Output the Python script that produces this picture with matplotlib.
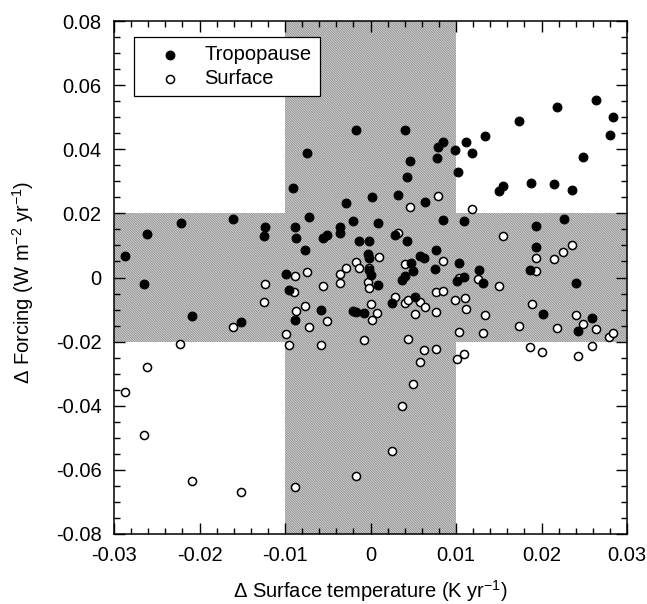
import numpy as np
import matplotlib
matplotlib.use('Agg')
import matplotlib.pyplot as plt
from matplotlib.ticker import MultipleLocator, FuncFormatter

plt.rcParams['font.family'] = ['Liberation Sans', 'DejaVu Sans']
plt.rcParams['mathtext.fontset'] = 'custom'
plt.rcParams['mathtext.rm'] = 'Liberation Sans'
plt.rcParams['mathtext.it'] = 'Liberation Sans:italic'
plt.rcParams['axes.unicode_minus'] = False
plt.rcParams['hatch.color'] = '#8c8c8c'
plt.rcParams['hatch.linewidth'] = 0.6

# ── DATA ───────────────────────────────────────────────────
trop_x = [-0.02868, -0.02618, -0.02649, -0.02222, -0.01608, -0.01234, -0.01251, -0.00901,
          -0.00743, -0.00883, -0.00875, -0.00719, -0.00766, -0.00992, -0.00959, -0.00550,
          -0.00509, -0.00582, -0.02091, -0.01520, -0.00880, -0.00166, -0.00287, 0.00023,
          -0.00199, 0.00091, -0.00354, -0.00353, -0.00135, -0.00018, -0.00033, -0.00023,
          -0.00012, 0.00006, 0.00084, -0.00199, -0.00166, -0.00073, 0.00400, 0.00848,
          0.00786, 0.01117, 0.00994, 0.00775, 0.00458, 0.01027, 0.00429, 0.00319,
          0.00634, 0.00844, 0.01099, 0.00283, 0.00421, 0.00766, 0.00582, 0.00622,
          0.00471, 0.00494, 0.00407, 0.00372, 0.00760, 0.01039, 0.01096, 0.01014,
          0.00251, 0.00515, 0.01187, 0.01336, 0.01740, 0.02185, 0.02637, 0.02833,
          0.02798, 0.02485, 0.01499, 0.01546, 0.01881, 0.02143, 0.02360, 0.01936,
          0.02260, 0.01932, 0.01265, 0.01319, 0.01865, 0.02404, 0.02012, 0.02593,
          0.02425]
trop_y = [0.00680, 0.01357, -0.00203, 0.01700, 0.01810, 0.01566, 0.01304, 0.02792,
          0.03884, 0.01566, 0.01226, 0.01881, 0.00867, 0.00119, -0.00381, 0.01223,
          0.01335, -0.00998, -0.01207, -0.01379, -0.01310, 0.04611, 0.02324, 0.02521,
          0.01769, 0.01697, 0.01560, 0.01398, 0.01145, 0.01145, 0.00733, 0.00599,
          0.00234, 0.00069, -0.00225, -0.01036, -0.01070, -0.01117, 0.04602, 0.04222,
          0.04062, 0.04234, 0.03988, 0.03722, 0.03644, 0.03276, 0.03136, 0.02580,
          0.02356, 0.01794, 0.01747, 0.01317, 0.01129, 0.00867, 0.00677, 0.00624,
          0.00443, 0.00203, 0.00056, -0.00078, 0.00275, 0.00459, 0.00025, -0.00119,
          -0.00780, -0.00599, 0.03875, 0.04415, 0.04892, 0.05310, 0.05529, 0.05008,
          0.04446, 0.03769, 0.02699, 0.02846, 0.02958, 0.02927, 0.02730, 0.01597,
          0.01835, 0.00942, 0.00243, -0.00178, 0.00246, -0.00165, -0.01139, -0.01248,
          -0.01669]

surf_x = [-0.01234, -0.01251, -0.00883, -0.00743, -0.00552, -0.00895, -0.00766, -0.00875,
          -0.01608, -0.02225, -0.00992, -0.00959, -0.02618, -0.02868, -0.02649, -0.02091,
          -0.01518, -0.00880, -0.00719, -0.00582, -0.00509, -0.00353, -0.00287, -0.00353,
          -0.00167, -0.00131, -0.00023, -0.00032, -0.00018, 0.00000, 0.00080, 0.00021,
          0.00094, -0.00073, 0.00786, 0.00460, 0.00322, 0.00398, 0.00850, 0.01032,
          0.00770, 0.00846, 0.00281, 0.00407, 0.00444, 0.00582, 0.00637, 0.00517,
          0.00766, 0.00992, 0.01102, 0.01117, 0.01035, 0.00439, 0.00626, 0.00763,
          0.01097, 0.01009, 0.00579, 0.00497, 0.00368, 0.00248, -0.00173, 0.01187,
          0.01546, 0.01933, 0.02143, 0.02255, 0.02360, 0.01936, 0.01261, 0.01499,
          0.01883, 0.01337, 0.01740, 0.01319, 0.02187, 0.02404, 0.02485, 0.02637,
          0.02793, 0.02836, 0.01865, 0.02009, 0.02593, 0.02425]
surf_y = [-0.00209, -0.00764, 0.00062, 0.00181, -0.00271, -0.00446, -0.00899, -0.01030,
          -0.01551, -0.02075, -0.01763, -0.02112, -0.02802, -0.03573, -0.04924, -0.06359,
          -0.06702, -0.06546, -0.01554, -0.02115, -0.01342, 0.00109, 0.00296, -0.00156,
          0.00493, 0.00303, 0.00281, -0.00150, -0.00334, -0.00811, -0.01117, -0.01310,
          0.00633, -0.01941, 0.02549, 0.02200, 0.01395, 0.00415, 0.00505, -0.00006,
          -0.00446, -0.00412, -0.00599, -0.00780, -0.00686, -0.00774, -0.00930, -0.01139,
          -0.01086, -0.00686, -0.00646, -0.00977, -0.01710, -0.01903, -0.02246, -0.02237,
          -0.02371, -0.02552, -0.02646, -0.03323, -0.04009, -0.05413, -0.06184, 0.02137,
          0.01304, 0.00593, 0.00571, 0.00802, 0.01023, 0.00203, -0.00056, -0.00265,
          -0.00827, -0.01154, -0.01498, -0.01741, -0.01569, -0.01170, -0.01441, -0.01597,
          -0.01866, -0.01722, -0.02175, -0.02334, -0.02144, -0.02443]

x_band = (-0.01, 0.01)
y_band = (-0.02, 0.02)

# ── PLOT ───────────────────────────────────────────────────
fig = plt.figure(figsize=(6.47, 6.04), dpi=100)
ax = fig.add_axes([0.1762, 0.1159, 0.7929, 0.8493])
ax.set_xlim(-0.03, 0.03)
ax.set_ylim(-0.08, 0.08)

# cross-shaped hatched region
cx0, cx1 = x_band
cy0, cy1 = y_band
poly_x = [cx0, cx1, cx1, 0.03, 0.03, cx1, cx1, cx0, cx0, -0.03, -0.03, cx0]
poly_y = [0.08, 0.08, cy1, cy1, cy0, cy0, -0.08, -0.08, cy0, cy0, cy1, cy1]
ax.fill(poly_x, poly_y, facecolor='#d6d6d6', edgecolor='none', zorder=0)
ax.fill(poly_x, poly_y, facecolor='none', hatch='\\' * 14, edgecolor='#8c8c8c',
        linewidth=0, zorder=0.5)

ax.scatter(trop_x, trop_y, s=40, facecolor='black', edgecolor='black',
           linewidths=0.8, zorder=3, label='Tropopause')
ax.scatter(surf_x, surf_y, s=34, facecolor='white', edgecolor='black',
           linewidths=1.1, zorder=2, label='Surface')

ax.xaxis.set_major_locator(MultipleLocator(0.01))
ax.xaxis.set_minor_locator(MultipleLocator(0.002))
ax.yaxis.set_major_locator(MultipleLocator(0.02))
ax.yaxis.set_minor_locator(MultipleLocator(0.005))
fmt = FuncFormatter(lambda v, p: '0' if abs(v) < 1e-9 else f'{v:g}')
ax.xaxis.set_major_formatter(fmt)
ax.yaxis.set_major_formatter(fmt)
ax.tick_params(which='both', direction='in', top=True, right=True, width=1.0)
ax.tick_params(which='major', length=8, labelsize=14.5)
ax.tick_params(axis='y', which='major', pad=9)
ax.tick_params(axis='x', which='major', pad=9)
ax.tick_params(which='minor', length=4.5)
for sp in ax.spines.values():
    sp.set_linewidth(1.1)

ax.set_xlabel('Δ Surface temperature (K yr$^{-1}$)', fontsize=14.5)
ax.set_ylabel('Δ Forcing (W m$^{-2}$ yr$^{-1}$)', fontsize=14.5)
ax.xaxis.set_label_coords(0.5, -0.086)
ax.yaxis.set_label_coords(-0.152, 0.49)

leg = ax.legend(loc='upper left', bbox_to_anchor=(0.039, 0.969), borderaxespad=0,
                fontsize=14.5, frameon=True, fancybox=False, edgecolor='black',
                framealpha=1, handletextpad=0.3, borderpad=0.4, labelspacing=0.25,
                handlelength=2.8)
leg.get_frame().set_linewidth(0.9)

plt.savefig('out.png', dpi=100)
